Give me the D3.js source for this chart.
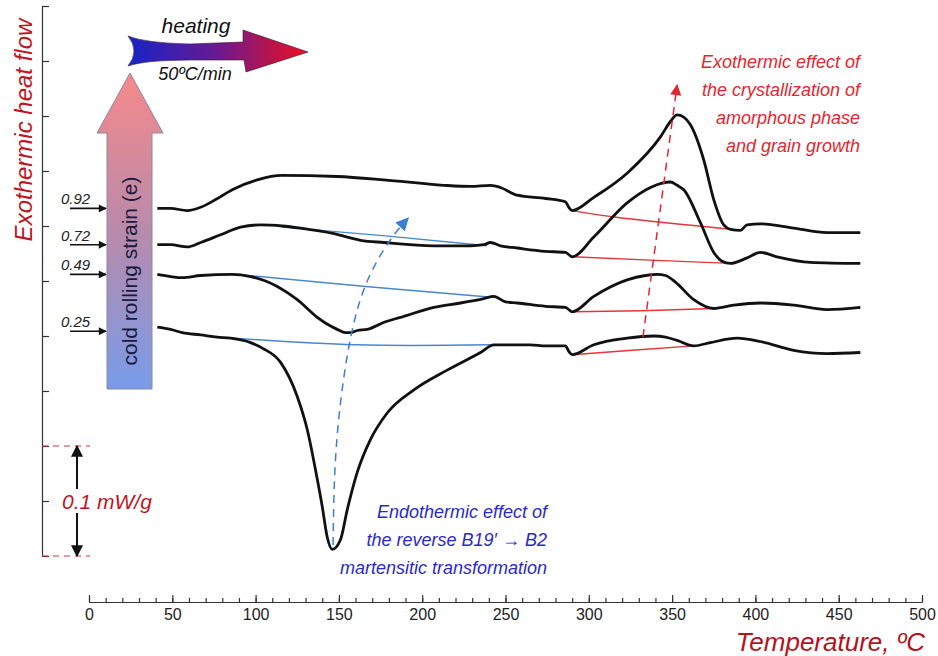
<!DOCTYPE html>
<html>
<head>
<meta charset="utf-8">
<script src="https://cdnjs.cloudflare.com/ajax/libs/d3/7.8.5/d3.min.js"></script>
<style>
  body { margin: 0; background: #fff; }
  svg { display: block; font-family: "Liberation Sans", Arial, sans-serif; }
</style>
</head>
<body>
<svg id="chart" width="938" height="656"></svg>
<script>
// DSC traces, temperature (ºC) vs heat flow (mW/g, curves shifted for clarity)
var strains = ['0.92', '0.72', '0.49', '0.25']

var curve092 = [[41,0.316],[49,0.316],[59,0.314],[67,0.317],[76,0.324],[86,0.333],[101,0.342],[116,0.346],[149,0.345],[177,0.342],[213,0.337],[229,0.336],[241,0.337],[247,0.335],[257,0.328],[274,0.325],[286,0.322],[288,0.317],[290,0.314],[303,0.326],[323,0.348],[343,0.381],[349,0.395],[353,0.401],[357,0.399],[361,0.392],[369,0.360],[375,0.324],[381,0.301],[385,0.297],[391,0.296],[395,0.301],[403,0.302],[423,0.298],[443,0.294],[463,0.294]]

var curve072 = [[41,0.283],[49,0.283],[59,0.281],[67,0.285],[79,0.292],[91,0.299],[103,0.301],[116,0.300],[127,0.298],[147,0.293],[163,0.287],[177,0.285],[207,0.282],[229,0.282],[237,0.283],[241,0.285],[247,0.282],[257,0.280],[274,0.277],[286,0.276],[288,0.274],[290,0.272],[303,0.290],[323,0.321],[337,0.335],[344,0.339],[349,0.340],[353,0.337],[357,0.333],[367,0.303],[375,0.276],[380,0.268],[385,0.266],[395,0.271],[403,0.276],[413,0.272],[433,0.267],[463,0.266]]

var curve049 = [[41,0.256],[49,0.254],[56,0.253],[67,0.255],[86,0.256],[97,0.254],[106,0.250],[113,0.245],[125,0.233],[137,0.217],[145,0.209],[149,0.206],[154,0.203],[157,0.203],[161,0.205],[167,0.206],[178,0.213],[187,0.217],[207,0.226],[223,0.230],[237,0.234],[243,0.236],[250,0.231],[257,0.230],[274,0.227],[286,0.226],[288,0.224],[290,0.222],[303,0.236],[323,0.251],[334,0.255],[341,0.256],[346,0.255],[352,0.249],[363,0.233],[375,0.225],[387,0.228],[403,0.230],[423,0.228],[443,0.224],[463,0.226]]

var curve025 = [[41,0.208],[49,0.206],[56,0.203],[67,0.201],[77,0.199],[85,0.198],[97,0.194],[104,0.189],[115,0.176],[125,0.145],[131,0.115],[136,0.078],[140,0.045],[143,0.017],[146,0.006],[151,0.015],[155,0.042],[161,0.076],[169,0.106],[179,0.130],[195,0.151],[215,0.169],[235,0.185],[243,0.192],[255,0.192],[265,0.192],[274,0.191],[286,0.191],[288,0.186],[290,0.183],[303,0.192],[323,0.198],[339,0.200],[346,0.199],[353,0.196],[363,0.191],[373,0.194],[389,0.198],[403,0.195],[423,0.187],[443,0.184],[463,0.185]]

var curves = [curve092, curve072, curve049, curve025]

// baselines of the endothermic (blue) and exothermic (red) effects
var blueBase = [
  [[116,0.299],[178,0.291],[239,0.282]],
  [[89,0.256],[166,0.245],[243,0.235]],
  [[77,0.199],[160,0.192],[241,0.192]]
]
var redBase = [
  [[290,0.314],[321,0.307],[385,0.297]],
  [[290,0.272],[337,0.269],[385,0.266]],
  [[290,0.222],[332,0.223],[375,0.225]],
  [[290,0.183],[326,0.187],[363,0.191]]
]

// shift of the peaks with strain
var blueShift = [[146.5,0.010],[148.3,0.096],[154.9,0.181],[165.7,0.245],[180.7,0.287],[191.5,0.307]]
var redShift = [[332.5,0.199],[353,0.428]]

var xTicks = d3.range(0, 501, 50)
var xMinor = d3.range(0, 501, 10)
var yTicks = d3.range(0, 0.501, 0.05)
var scaleBar = [0, 0.1]

var redText = ['Exothermic effect of', 'the crystallization of', 'amorphous phase', 'and grain growth']
var blueText = ['Endothermic effect of', 'the reverse B19\u2032 \u2192 B2', 'martensitic transformation']

var svg = d3.select('#chart')

var x = d3.scaleLinear().domain([0, 500]).range([89, 922])
var y = d3.scaleLinear().domain([0, 0.5]).range([556, 6])

var defs = svg.append('defs')

function marker(id, color, w, h){
  defs.append('marker')
    .attr('id', id)
    .attr('viewBox', '0 0 10 10')
    .attr('refX', 9).attr('refY', 5)
    .attr('markerUnits', 'userSpaceOnUse')
    .attr('markerWidth', w).attr('markerHeight', h)
    .attr('orient', 'auto')
    .append('path')
    .attr('d', 'M0,0 L10,5 L0,10 Z')
    .attr('fill', color)
}
marker('headBlack', '#111', 10, 8)
marker('headBig', '#111', 14, 12)
marker('headRed', '#e3262e', 12, 11)
marker('headBlue', '#3c7fd0', 14, 13)

var gHeat = defs.append('linearGradient').attr('id', 'gHeat')
gHeat.append('stop').attr('offset', 0).attr('stop-color', '#1524c8')
gHeat.append('stop').attr('offset', 0.5).attr('stop-color', '#6a1a90')
gHeat.append('stop').attr('offset', 1).attr('stop-color', '#ee1020')

var gStrain = defs.append('linearGradient').attr('id', 'gStrain')
  .attr('x1', 0).attr('y1', 0).attr('x2', 0).attr('y2', 1)
gStrain.append('stop').attr('offset', 0).attr('stop-color', '#f6898b')
gStrain.append('stop').attr('offset', 0.5).attr('stop-color', '#b98aab')
gStrain.append('stop').attr('offset', 1).attr('stop-color', '#789ce9')

// axes
var yAxis = d3.axisRight(y).tickValues(yTicks).tickSize(7).tickSizeOuter(0).tickFormat('')
svg.append('g').attr('transform', 'translate(42,0)').call(yAxis)

svg.append('g').attr('transform', 'translate(0,602)')
  .call(d3.axisBottom(x).tickValues(xMinor).tickSizeInner(-4).tickSizeOuter(0).tickFormat(''))

var xAxis = d3.axisBottom(x).tickValues(xTicks).tickSizeInner(-7).tickSizeOuter(0).tickPadding(7)
var xg = svg.append('g').attr('transform', 'translate(0,602)').call(xAxis)
xg.selectAll('text').attr('font-size', 16).attr('fill', '#222')
  .attr('font-family', '"Liberation Sans Narrow", "Liberation Sans", Arial, sans-serif')

svg.selectAll('.domain, .tick line').attr('stroke', '#333').attr('stroke-width', 1.2)

svg.append('text')
  .attr('transform', 'translate(32,' + 130 + ') rotate(-90)')
  .attr('text-anchor', 'middle')
  .attr('font-size', 24).attr('font-style', 'italic').attr('fill', '#c0141e')
  .text('Exothermic heat flow')

svg.append('text')
  .attr('x', 925).attr('y', 651)
  .attr('text-anchor', 'end')
  .attr('font-size', 26).attr('font-style', 'italic').attr('fill', '#b5121b')
  .text('Temperature, ºC')

// scale bar
svg.selectAll('line.sb').data(scaleBar).enter().append('line')
  .attr('x1', 42).attr('x2', 90)
  .attr('y1', d => y(d)).attr('y2', d => y(d))
  .attr('stroke', '#d8323a').attr('stroke-width', 1.2).attr('stroke-dasharray', '6,5')

var mid = (scaleBar[0] + scaleBar[1]) / 2
svg.append('line')
  .attr('x1', 77).attr('x2', 77).attr('y1', y(mid) - 12).attr('y2', y(scaleBar[1]))
  .attr('stroke', '#111').attr('stroke-width', 2).attr('marker-end', 'url(#headBig)')
svg.append('line')
  .attr('x1', 77).attr('x2', 77).attr('y1', y(mid) + 12).attr('y2', y(scaleBar[0]))
  .attr('stroke', '#111').attr('stroke-width', 2).attr('marker-end', 'url(#headBig)')
svg.append('text')
  .attr('x', 62).attr('y', y(mid) + 8)
  .attr('font-size', 21).attr('font-style', 'italic').attr('fill', '#c0141e')
  .text((scaleBar[1] - scaleBar[0]) + ' mW/g')

// cold rolling strain arrow
svg.append('path')
  .attr('d', 'M107,389 L107,133 L97,133 L130,73 L163,133 L152,133 L152,389 Z')
  .attr('fill', 'url(#gStrain)').attr('stroke', '#8a8a9a').attr('stroke-width', 1)
svg.append('text')
  .attr('transform', 'translate(137,271) rotate(-90)')
  .attr('text-anchor', 'middle')
  .attr('font-size', 21).attr('fill', '#1a1a3c')
  .text('cold rolling strain (e)')

// heating arrow
svg.append('path')
  .attr('d', 'M128,36 Q145,43 190,44 L243,42 L243,30 L308,52 L246,72 L244,60 L190,60 Q145,60 128,66 Q140,51 128,36 Z')
  .attr('fill', 'url(#gHeat)').attr('stroke', '#3a1030').attr('stroke-width', 0.6)
svg.append('text').attr('x', 196).attr('y', 33).attr('text-anchor', 'middle')
  .attr('font-size', 21).attr('font-style', 'italic').attr('fill', '#111').text('heating')
svg.append('text').attr('x', 195).attr('y', 80).attr('text-anchor', 'middle')
  .attr('font-size', 18).attr('font-style', 'italic').attr('fill', '#111').text('50ºC/min')

// strain labels
var lab = svg.selectAll('g.lab').data(strains).enter().append('g')
lab.append('line')
  .attr('x1', 70).attr('x2', 106)
  .attr('y1', (d, i) => y(curves[i][0][1]) + (i == 3 ? 4 : 0))
  .attr('y2', (d, i) => y(curves[i][0][1]) + (i == 3 ? 4 : 0))
  .attr('stroke', '#111').attr('stroke-width', 1.6).attr('marker-end', 'url(#headBlack)')
lab.append('text')
  .attr('x', 61)
  .attr('y', (d, i) => y(curves[i][0][1]) + (i == 3 ? 4 : 0) - 4)
  .attr('font-size', 15).attr('font-style', 'italic').attr('fill', '#222')
  .text(d => d)

var line = d3.line().x(d => x(d[0])).y(d => y(d[1])).curve(d3.curveMonotoneX)
var smooth = d3.line().x(d => x(d[0])).y(d => y(d[1])).curve(d3.curveNatural)

svg.selectAll('path.base-b').data(blueBase).enter().append('path')
  .attr('d', smooth).attr('fill', 'none').attr('stroke', '#4a86cf').attr('stroke-width', 1.4)
svg.selectAll('path.base-r').data(redBase).enter().append('path')
  .attr('d', smooth).attr('fill', 'none').attr('stroke', '#e5343a').attr('stroke-width', 1.4)

svg.selectAll('path.dsc').data(curves).enter().append('path')
  .attr('d', line).attr('fill', 'none').attr('stroke', '#111')
  .attr('stroke-width', 2.8).attr('stroke-linejoin', 'round')

svg.append('path').datum(blueShift)
  .attr('d', smooth).attr('fill', 'none').attr('stroke', '#3c7fd0')
  .attr('stroke-width', 1.5).attr('stroke-dasharray', '8,6').attr('marker-end', 'url(#headBlue)')
svg.append('path').datum(redShift)
  .attr('d', d3.line().x(d => x(d[0])).y(d => y(d[1]))).attr('fill', 'none').attr('stroke', '#e3262e')
  .attr('stroke-width', 1.5).attr('stroke-dasharray', '8,6').attr('marker-end', 'url(#headRed)')

svg.selectAll('text.red').data(redText).enter().append('text')
  .attr('x', 860).attr('y', (d, i) => 68 + i*28)
  .attr('text-anchor', 'end').attr('font-size', 18).attr('font-style', 'italic').attr('fill', '#e3262e')
  .text(d => d)

svg.selectAll('text.blue').data(blueText).enter().append('text')
  .attr('x', 547).attr('y', (d, i) => 518 + i*28)
  .attr('text-anchor', 'end').attr('font-size', 18).attr('font-style', 'italic').attr('fill', '#2a2ac4')
  .text(d => d)
</script>
</body>
</html>
